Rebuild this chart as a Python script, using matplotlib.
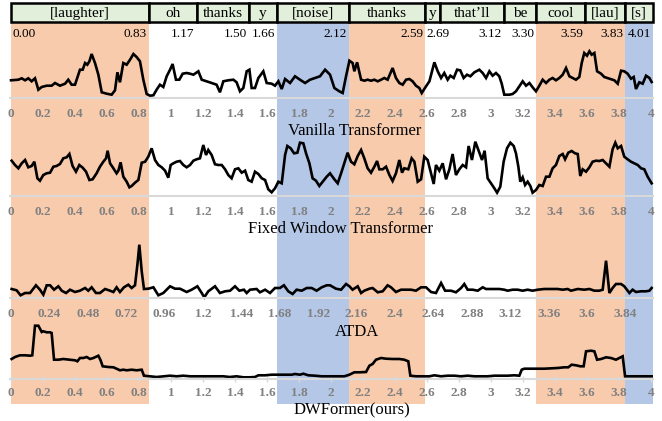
import numpy as np
import matplotlib
matplotlib.use("Agg")
import matplotlib.pyplot as plt
from matplotlib.patches import Rectangle

plt.rcParams['font.family'] = ['Liberation Serif', 'DejaVu Serif']

# words of the utterance and their boundaries (seconds)
words = ['[laughter]', 'oh', 'thanks', 'y', '[noise]', 'thanks', 'y', 'that\u2019ll',
         'be', 'cool', '[lau]', '[s]']
word_edges = [0.0, 0.86, 1.16, 1.49, 1.66, 2.11, 2.59, 2.68, 3.08, 3.28, 3.59, 3.84, 4.01]
start_label = '0.00'
end_labels = ['0.83', '1.17', '1.50', '1.66', '2.12', '2.59', '2.69', '3.12', '3.30',
              '3.59', '3.83', '4.01']
word_shade = ['laugh', None, None, None, 'noise', 'laugh', None, None, None,
              'laugh', 'laugh', 'noise']

# Vanilla Transformer attention
t_vanilla = [0.00, 0.046, 0.067, 0.088, 0.108, 0.129, 0.150, 0.171, 0.192, 0.223, 0.254,
             0.275, 0.306, 0.338, 0.358, 0.379, 0.400, 0.431, 0.448, 0.463, 0.477, 0.490,
             0.504, 0.525, 0.546, 0.567, 0.598, 0.629, 0.650, 0.665, 0.681, 0.702, 0.723,
             0.744, 0.765, 0.785, 0.806, 0.827, 0.848, 0.869, 0.890, 0.910, 0.931, 0.952,
             0.973, 0.994, 1.010, 1.031, 1.052, 1.073, 1.098, 1.119, 1.140, 1.171, 1.192,
             1.223, 1.254, 1.285, 1.306, 1.327, 1.358, 1.390, 1.410, 1.431, 1.452, 1.473,
             1.490, 1.504, 1.525, 1.546, 1.577, 1.598, 1.629, 1.650, 1.671, 1.692, 1.713,
             1.744, 1.775, 1.806, 1.838, 1.869, 1.900, 1.931, 1.963, 1.994,
             2.021, 2.052, 2.073, 2.094, 2.115, 2.135, 2.146, 2.163, 2.188, 2.208, 2.229,
             2.250, 2.271, 2.292, 2.313, 2.333, 2.354, 2.385, 2.406, 2.427, 2.448, 2.469,
             2.490, 2.510, 2.531, 2.552, 2.567, 2.594, 2.615, 2.646, 2.667, 2.688, 2.708,
             2.729, 2.746, 2.767, 2.788, 2.808, 2.829, 2.850, 2.871, 2.896, 2.927, 2.948,
             2.969, 2.990, 3.010, 3.031, 3.052, 3.067, 3.083, 3.115, 3.135, 3.156, 3.177,
             3.198, 3.219, 3.240, 3.260, 3.281, 3.302, 3.323, 3.344, 3.365, 3.385, 3.406,
             3.427, 3.448, 3.469, 3.490, 3.510, 3.531, 3.552, 3.567, 3.583, 3.600, 3.615,
             3.629, 3.646, 3.663, 3.688, 3.708, 3.740, 3.771, 3.792, 3.813, 3.833, 3.854,
             3.875, 3.892, 3.906, 3.927, 3.948, 3.969, 3.990, 4.004]
v_vanilla = [17.7, 18.3, 19.7, 17.7, 19.7, 16.7, 19.7, 8.3, 11.0, 12.3, 12.3,
             15.0, 12.3, 14.3, 18.3, 13.3, 13.3, 28.3, 28.3, 35.0, 33.3, 36.7,
             44.0, 35.0, 23.3, 5.7, 4.3, 3.3, 7.7, 25.7, 15.7, 35.0, 33.3,
             38.3, 44.0, 41.0, 36.7, 18.3, 4.0, 2.3, 2.7, 8.3, 13.3, 11.0,
             21.7, 28.3, 34.0, 18.3, 18.3, 24.3, 25.0, 24.3, 23.3, 26.7, 18.3,
             16.7, 15.0, 13.3, 5.7, 16.7, 17.7, 18.3, 15.7, 6.7, 10.0, 26.7,
             28.3, 10.0, 10.0, 20.0, 26.7, 15.0, 14.3, 12.3, 16.7, 9.0, 19.0,
             15.0, 21.7, 18.3, 15.0, 18.3, 20.0, 21.7, 28.3, 23.3,
             10.0, 6.7, 5.0, 21.7, 37.3, 35.0, 26.7, 35.7, 18.3, 17.3, 18.3,
             17.3, 18.3, 16.7, 18.3, 20.0, 18.3, 30.0, 20.0, 15.0, 13.3, 18.3,
             19.0, 16.7, 12.3, 10.0, 5.0, 11.7, 16.7, 35.7, 26.7, 20.0, 25.0,
             18.3, 22.3, 20.0, 28.3, 27.7, 20.0, 23.3, 21.7, 25.7, 28.3, 25.0,
             20.0, 26.7, 22.3, 25.0, 21.7, 14.3, 3.3, 3.3, 4.0, 6.7, 11.7,
             16.7, 12.3, 15.0, 10.7, 6.7, 12.3, 18.3, 15.0, 18.3, 20.0, 17.7,
             20.0, 23.3, 30.0, 21.7, 20.0, 18.3, 21.0, 35.0, 45.0, 42.3, 46.7,
             43.3, 45.0, 26.7, 24.3, 21.0, 19.3, 17.7, 14.3, 27.3, 26.7, 24.3,
             19.3, 21.0, 9.0, 15.7, 14.3, 22.3, 20.0, 16.0]

# Fixed Window Transformer attention
t_fixed = [0.004, 0.025, 0.046, 0.067, 0.088, 0.108, 0.129, 0.146, 0.165, 0.181, 0.202,
           0.223, 0.244, 0.265, 0.285, 0.306, 0.327, 0.348, 0.365, 0.385, 0.406, 0.427,
           0.448, 0.469, 0.490, 0.510, 0.535, 0.556, 0.577, 0.594, 0.604, 0.619, 0.640,
           0.660, 0.671, 0.685, 0.702, 0.723, 0.740, 0.754, 0.775, 0.796, 0.817, 0.838,
           0.858, 0.879, 0.900, 0.921, 0.942, 0.963, 0.983, 0.998, 1.015, 1.035, 1.056,
           1.077, 1.098, 1.119, 1.140, 1.160, 1.181, 1.202, 1.219, 1.233, 1.254, 1.275,
           1.296, 1.317, 1.338, 1.358, 1.379, 1.400, 1.421, 1.442, 1.463, 1.483, 1.504,
           1.525, 1.546, 1.567, 1.588, 1.608, 1.629, 1.650, 1.671, 1.692, 1.713, 1.727,
           1.748, 1.769, 1.790, 1.806, 1.827, 1.844, 1.865, 1.885, 1.906, 1.927, 1.948,
           1.973, 1.994,
           2.021, 2.042, 2.063, 2.083, 2.104, 2.125, 2.146, 2.167, 2.188, 2.208, 2.229,
           2.250, 2.271, 2.288, 2.302, 2.323, 2.344, 2.365, 2.385, 2.406, 2.427, 2.444,
           2.458, 2.483, 2.504, 2.521, 2.542, 2.563, 2.583, 2.604, 2.625, 2.642, 2.656,
           2.677, 2.698, 2.719, 2.740, 2.760, 2.781, 2.802, 2.823, 2.844, 2.860, 2.881,
           2.902, 2.923, 2.944, 2.960, 2.979, 3.000, 3.021, 3.038, 3.058, 3.079, 3.100,
           3.121, 3.142, 3.156, 3.171, 3.183, 3.198, 3.213, 3.229, 3.246, 3.260, 3.281,
           3.302, 3.323, 3.344, 3.365, 3.385, 3.406, 3.427, 3.448, 3.463, 3.483, 3.504,
           3.525, 3.542, 3.558, 3.573, 3.594, 3.615, 3.635, 3.656, 3.677, 3.698, 3.719,
           3.740, 3.760, 3.777, 3.792, 3.813, 3.833, 3.854, 3.875, 3.896, 3.917, 3.938,
           3.958, 3.979, 4.004]
v_fixed = [35.3, 31.0, 27.7, 32.7, 36.0, 28.7, 30.0, 34.3, 17.7, 15.3, 21.0,
           22.7, 23.3, 29.3, 30.0, 32.0, 37.7, 38.7, 42.0, 30.0, 24.3, 31.0,
           28.3, 24.3, 16.0, 16.7, 22.7, 29.3, 34.3, 37.7, 45.3, 32.7, 27.7,
           22.7, 25.3, 33.7, 19.3, 14.3, 8.7, 10.0, 13.3, 16.0, 33.3, 34.3,
           39.3, 47.7, 36.0, 31.0, 28.7, 25.3, 18.3, 31.0, 32.7, 34.3, 35.0,
           31.0, 28.7, 31.0, 35.3, 36.7, 37.7, 51.0, 41.0, 46.0, 41.0, 31.7,
           31.0, 31.0, 26.7, 21.0, 17.7, 26.7, 27.7, 23.3, 25.3, 16.0, 14.3,
           24.3, 22.0, 17.7, 16.0, 6.7, 3.7, 7.7, 14.3, 12.7, 41.0, 50.0,
           47.7, 42.7, 43.3, 53.3, 52.7, 42.7, 32.7, 17.7, 15.3, 10.0, 14.3,
           19.3, 22.7,
           16.7, 12.7, 22.7, 32.7, 43.3, 34.3, 31.7, 40.0, 46.0, 37.7, 27.7,
           23.3, 29.3, 35.0, 26.7, 26.7, 29.3, 21.0, 15.0, 22.7, 36.0, 23.3,
           27.7, 26.7, 37.7, 34.3, 14.3, 16.7, 39.3, 36.0, 22.7, 12.0, 31.0,
           25.3, 32.7, 16.7, 26.7, 42.0, 21.0, 26.7, 31.0, 28.7, 50.0, 36.0,
           54.3, 45.3, 36.0, 45.3, 17.7, 12.7, 7.7, 3.3, 9.3, 34.3, 47.7,
           53.3, 50.0, 42.7, 29.3, 14.3, 18.7, 11.0, 14.3, 10.0, 3.3, 6.0,
           11.0, 10.0, 19.3, 19.3, 27.7, 31.0, 40.0, 42.0, 36.7, 43.3, 45.0,
           42.7, 42.0, 20.0, 26.7, 24.3, 28.7, 34.3, 35.3, 35.0, 36.0, 32.7,
           29.3, 46.7, 53.3, 47.7, 50.0, 39.3, 36.7, 34.3, 32.7, 31.0, 27.7,
           26.7, 19.3, 12.7]

# ATDA attention
t_atda = [0.004, 0.035, 0.060, 0.088, 0.119, 0.156, 0.181, 0.202, 0.223, 0.244, 0.269,
          0.296, 0.317, 0.344, 0.369, 0.400, 0.431, 0.463, 0.483, 0.504, 0.531, 0.556,
          0.588, 0.619, 0.640, 0.660, 0.681, 0.706, 0.733, 0.754, 0.775, 0.790, 0.802,
          0.817, 0.831, 0.858, 0.890, 0.921, 0.952, 0.994, 1.025, 1.056, 1.098, 1.129,
          1.165, 1.192, 1.208, 1.233, 1.275, 1.306, 1.338, 1.369, 1.400, 1.427, 1.456,
          1.473, 1.494, 1.535, 1.556, 1.588, 1.619, 1.650, 1.681, 1.706, 1.733, 1.760,
          1.785, 1.817, 1.848, 1.879, 1.910, 1.942, 1.973, 1.994,
          2.031, 2.063, 2.094, 2.115, 2.135, 2.167, 2.188, 2.208, 2.240, 2.260, 2.292,
          2.323, 2.354, 2.375, 2.406, 2.438, 2.469, 2.500, 2.531, 2.563, 2.594, 2.625,
          2.656, 2.688, 2.713, 2.750, 2.781, 2.813, 2.833, 2.854, 2.885, 2.917, 2.948,
          2.969, 3.010, 3.052, 3.083, 3.104, 3.135, 3.167, 3.198, 3.229, 3.260, 3.292,
          3.333, 3.375, 3.417, 3.448, 3.479, 3.500, 3.542, 3.583, 3.615, 3.646, 3.677,
          3.698, 3.719, 3.740, 3.760, 3.781, 3.813, 3.833, 3.865, 3.885, 3.906, 3.938,
          3.969, 3.990, 4.004]
v_atda = [9.0, 7.7, 2.7, 5.0, 5.0, 12.7, 8.3, 3.3, 12.7, 12.7, 8.3,
          11.7, 7.3, 5.0, 8.3, 6.0, 7.3, 10.0, 7.3, 10.7, 5.0, 5.0,
          9.0, 7.3, 6.0, 10.7, 6.0, 10.7, 13.3, 10.0, 12.7, 33.3, 53.3,
          26.7, 9.0, 9.3, 10.7, 2.7, 5.0, 11.7, 9.3, 9.3, 6.0, 8.3,
          11.7, 5.0, 0.7, 6.7, 11.7, 5.0, 6.7, 7.3, 11.7, 7.3, 8.3,
          5.0, 8.3, 9.0, 5.7, 8.3, 5.0, 10.0, 10.0, 12.7, 6.7, 4.0,
          8.3, 7.3, 10.0, 10.0, 7.3, 10.7, 12.7, 12.7,
          9.3, 8.3, 14.0, 11.7, 8.3, 11.7, 5.0, 7.3, 9.3, 10.0, 5.7,
          6.7, 12.7, 10.7, 6.0, 8.3, 8.3, 8.3, 7.3, 10.7, 10.7, 6.0,
          5.0, 15.0, 7.3, 7.3, 5.7, 10.0, 14.0, 8.3, 8.3, 7.3, 10.7,
          9.0, 9.0, 9.0, 8.3, 7.3, 8.3, 8.3, 7.3, 8.3, 7.3, 8.3,
          9.0, 9.0, 9.0, 8.3, 9.0, 7.3, 9.0, 8.3, 9.0, 7.3, 7.3,
          8.3, 37.3, 5.0, 10.0, 14.0, 14.0, 11.7, 5.0, 8.3, 6.0, 6.7,
          6.7, 7.3, 10.0]

# DWFormer attention
t_dw = [0.004, 0.025, 0.056, 0.088, 0.119, 0.133, 0.150, 0.171, 0.192, 0.202, 0.223,
        0.244, 0.254, 0.269, 0.296, 0.327, 0.369, 0.400, 0.415, 0.431, 0.452, 0.473,
        0.494, 0.515, 0.546, 0.560, 0.573, 0.608, 0.640, 0.660, 0.681, 0.702, 0.723,
        0.754, 0.785, 0.817, 0.831, 0.869, 0.910, 0.952, 0.994, 1.035, 1.077, 1.119,
        1.160, 1.202, 1.244, 1.285, 1.327, 1.367, 1.410, 1.452, 1.494, 1.525, 1.546,
        1.588, 1.629, 1.671, 1.713, 1.754, 1.775, 1.806, 1.827, 1.858, 1.900, 1.942,
        1.994,
        2.042, 2.083, 2.115, 2.146, 2.177, 2.219, 2.240, 2.260, 2.281, 2.313, 2.344,
        2.385, 2.427, 2.458, 2.483, 2.496, 2.531, 2.573, 2.615, 2.646, 2.688, 2.729,
        2.771, 2.813, 2.854, 2.896, 2.938, 2.979, 3.021, 3.063, 3.104, 3.146, 3.177,
        3.192, 3.208, 3.250, 3.292, 3.333, 3.375, 3.417, 3.458, 3.483, 3.504, 3.531,
        3.558, 3.579, 3.594, 3.625, 3.646, 3.663, 3.688, 3.719, 3.750, 3.781, 3.802,
        3.823, 3.838, 3.875, 3.917, 3.958, 4.004]
v_dw = [20.0, 22.0, 23.7, 23.7, 23.3, 23.7, 53.3, 53.3, 47.0, 47.7, 46.7,
        46.7, 46.0, 19.3, 19.3, 20.0, 19.3, 18.7, 17.7, 21.0, 21.0, 22.0,
        20.0, 21.0, 23.3, 18.7, 12.7, 12.0, 11.7, 10.3, 8.7, 9.3, 8.7,
        9.3, 8.7, 9.3, 3.3, 2.7, 2.0, 2.7, 3.3, 2.7, 3.3, 2.7,
        2.7, 2.7, 2.7, 2.7, 2.7, 2.0, 2.7, 1.7, 1.7, 2.0, 3.7,
        3.7, 4.3, 4.3, 4.3, 4.3, 5.0, 4.3, 5.3, 3.7, 3.3, 2.7,
        2.7,
        2.7, 2.7, 4.3, 6.7, 6.7, 7.0, 13.3, 15.0, 19.3, 21.0, 20.3,
        20.0, 20.0, 19.3, 17.7, 3.3, 2.7, 2.7, 2.7, 3.7, 2.7, 3.3,
        3.3, 2.7, 3.3, 2.7, 2.7, 2.7, 3.3, 3.3, 3.3, 3.7, 3.3,
        9.3, 10.3, 10.3, 10.3, 10.3, 10.7, 11.0, 11.7, 11.7, 14.3, 13.7,
        12.7, 12.7, 27.7, 28.3, 27.7, 19.3, 20.0, 21.7, 21.0, 19.3, 21.0,
        22.7, 2.7, 2.7, 2.7, 2.7, 2.7]

ticks_std = [round(v, 2) for v in np.arange(0, 4.001, 0.2)]
ticks_atda = [round(v, 2) for v in np.arange(0, 3.85, 0.24)]

titles = ['Vanilla Transformer', 'Fixed Window Transformer', 'ATDA', 'DWFormer(ours)']

# ---- layout (pixels) ----
W, H = 662, 421
fig = plt.figure(figsize=(W / 100, H / 100), dpi=100)
XL = (-1 / 160, 642 / 160)
LEFT, WIDTH = 10, 643
shade_col = {'laugh': '#F8CBAD', 'noise': '#B4C7E7'}


def rect(left, top, width, height):
    return [left / W, 1 - (top + height) / H, width / W, height / H]


# background bands
bg = fig.add_axes(rect(LEFT, 22, WIDTH, 382))
bg.set_xlim(XL)
bg.set_ylim(0, 1)
bg.axis('off')
for i, s in enumerate(word_shade):
    if s:
        bg.axvspan(word_edges[i], word_edges[i + 1], color=shade_col[s], lw=0)

# word bar
wb = fig.add_axes(rect(LEFT, 3, WIDTH, 19))
wb.set_xlim(XL)
wb.set_ylim(0, 1)
wb.axis('off')
for i, w in enumerate(words):
    x0, x1 = word_edges[i], word_edges[i + 1]
    wb.add_patch(Rectangle((x0, 0), x1 - x0, 1, facecolor='#E2EFDA', edgecolor='black',
                           lw=1.8, clip_on=False))
    wb.text((x0 + x1) / 2, 0.45, w, ha='center', va='center', fontsize=11)

# boundary time labels
tl = fig.add_axes(rect(LEFT, 24, WIDTH, 18))
tl.set_xlim(XL)
tl.set_ylim(0, 1)
tl.axis('off')
tl.text(word_edges[0] + 0.01, 0.45, start_label, ha='left', va='center', fontsize=9.5)
for i, lab in enumerate(end_labels):
    x0, x1 = word_edges[i], word_edges[i + 1]
    if x1 - x0 < 0.15:
        tl.text(x0 + 0.005, 0.45, lab, ha='left', va='center', fontsize=9.5)
    else:
        tl.text(x1 - 0.012, 0.45, lab, ha='right', va='center', fontsize=9.5)

panels = [
    (t_vanilla, v_vanilla, 98, ticks_std, 355, 131, False),
    (t_fixed, v_fixed, 196, ticks_std, 341, 229, False),
    (t_atda, v_atda, 298, ticks_atda, 357, 332, False),
    (t_dw, v_dw, 379, ticks_std, 352, 410, True),
]
PH = 56
for (t, v, base, ticks, tx, ty, marks), title in zip(panels, titles):
    ax = fig.add_axes(rect(LEFT, base - PH, WIDTH, PH))
    ax.patch.set_alpha(0)
    ax.plot(t, v, color='black', lw=1.9, clip_on=False, solid_joinstyle='miter')
    ax.set_xlim(XL)
    ax.set_ylim(0, PH)
    for s in ['top', 'left', 'right']:
        ax.spines[s].set_visible(False)
    ax.spines['bottom'].set_color('#D9D9D9')
    ax.spines['bottom'].set_linewidth(1.5)
    ax.set_yticks([])
    ax.set_xticks(ticks)
    ax.set_xticklabels([f'{x:g}' for x in ticks], fontsize=9.5, fontweight='bold',
                       color='#808080')
    if marks:
        ax.tick_params(axis='x', direction='inout', length=4, width=1, color='#D9D9D9', pad=4)
    else:
        ax.tick_params(axis='x', length=0, pad=7)
    fig.text(tx / W, 1 - ty / H, title, ha='center', va='center', fontsize=12)

fig.savefig('out.png', dpi=100)
